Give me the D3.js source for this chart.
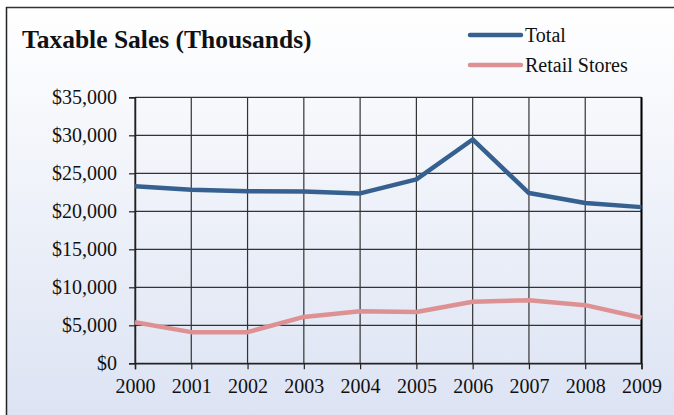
<!DOCTYPE html>
<html><head><meta charset="utf-8">
<script src="https://cdn.jsdelivr.net/npm/d3@7"></script>
<style>html,body{margin:0;padding:0;background:#fff;}svg{display:block;}</style>
</head><body>
<svg id="c" width="674" height="415"></svg>
<script>
const years = ["2000","2001","2002","2003","2004","2005","2006","2007","2008","2009"];
const totalValues = [23300, 22850, 22650, 22600, 22350, 24200, 29450, 22400, 21100, 20550];
const retailValues = [5400, 4100, 4100, 6100, 6850, 6750, 8100, 8300, 7650, 6000];
const yTicks = [0, 5000, 10000, 15000, 20000, 25000, 30000, 35000];
const seriesNames = ["Total", "Retail Stores"];
const seriesColors = ["#36608f", "#dd9192"];

const FONT = "'Liberation Serif', 'Times New Roman', serif";
const svg = d3.select("#c");
const defs = svg.append("defs");
const grad = defs.append("linearGradient").attr("id","bg").attr("x1",0).attr("y1",0).attr("x2",0).attr("y2",1);
grad.append("stop").attr("offset","0%").attr("stop-color","#ffffff");
grad.append("stop").attr("offset","100%").attr("stop-color","#dce3f3");
svg.append("rect").attr("x",6).attr("y",7).attr("width",668).attr("height",408).attr("fill","url(#bg)");
svg.append("line").attr("x1",6).attr("x2",674).attr("y1",7.5).attr("y2",7.5).attr("stroke","#333").attr("stroke-width",1.5);
svg.append("line").attr("x1",6.5).attr("x2",6.5).attr("y1",7).attr("y2",415).attr("stroke","#222").attr("stroke-width",1.5);

const x = d3.scalePoint().domain(years).range([135, 641.5]);
const y = d3.scaleLinear().domain([0, 35000]).range([363.3, 97.3]);

const g = svg.append("g");
g.selectAll(".hg").data(yTicks).join("line")
  .attr("x1",135).attr("x2",641.5)
  .attr("y1",d=>y(d)).attr("y2",d=>y(d))
  .attr("stroke","#333").attr("stroke-width",1.2);
g.selectAll(".vg").data(years).join("line")
  .attr("x1",d=>x(d)).attr("x2",d=>x(d))
  .attr("y1",y(35000)).attr("y2",y(0))
  .attr("stroke","#333").attr("stroke-width",1.2);
g.append("line").attr("x1",641.5).attr("x2",641.5).attr("y1",y(35000)).attr("y2",y(0)).attr("stroke","#000").attr("stroke-width",2);

const fmt = d => "$" + d3.format(",")(d);
const yAxis = d3.axisLeft(y).tickValues(yTicks).tickFormat(fmt).tickSize(6).tickPadding(12);
const ya = svg.append("g").attr("transform","translate(135,0)").call(yAxis);
ya.select(".domain").attr("stroke","#222").attr("stroke-width",1.5);
ya.selectAll(".tick line").attr("stroke","#222").attr("stroke-width",1.2);
ya.selectAll("text").attr("font-family",FONT).attr("font-size",20).attr("fill","#111");

const xAxis = d3.axisBottom(x).tickSize(6).tickPadding(10);
const xa = svg.append("g").attr("transform",`translate(0,${y(0)})`).call(xAxis);
xa.select(".domain").attr("stroke","#222").attr("stroke-width",1.5);
xa.selectAll(".tick line").attr("stroke","#222").attr("stroke-width",1.2);
xa.selectAll("text").attr("font-family",FONT).attr("font-size",20).attr("fill","#111");

const line = d3.line().x((d,i)=>x(years[i])).y(d=>y(d));
[totalValues, retailValues].forEach((vals,i)=>{
  svg.append("path").datum(vals).attr("d",line).attr("fill","none")
    .attr("stroke",seriesColors[i]).attr("stroke-width",4.5).attr("stroke-linejoin","round");
});

svg.append("text").attr("x",22).attr("y",48).text("Taxable Sales (Thousands)")
  .attr("font-family",FONT).attr("font-weight","bold").attr("font-size",25.5).attr("fill","#111");

const leg = svg.append("g");
seriesNames.forEach((n,i)=>{
  const ly = 35 + i*30;
  leg.append("line").attr("x1",470).attr("x2",521).attr("y1",ly).attr("y2",ly)
    .attr("stroke",seriesColors[i]).attr("stroke-width",4.5).attr("stroke-linecap","round");
  leg.append("text").attr("x",525).attr("y",ly+7).text(n)
    .attr("font-family",FONT).attr("font-size",20).attr("fill","#111");
});
</script>
</body></html>
